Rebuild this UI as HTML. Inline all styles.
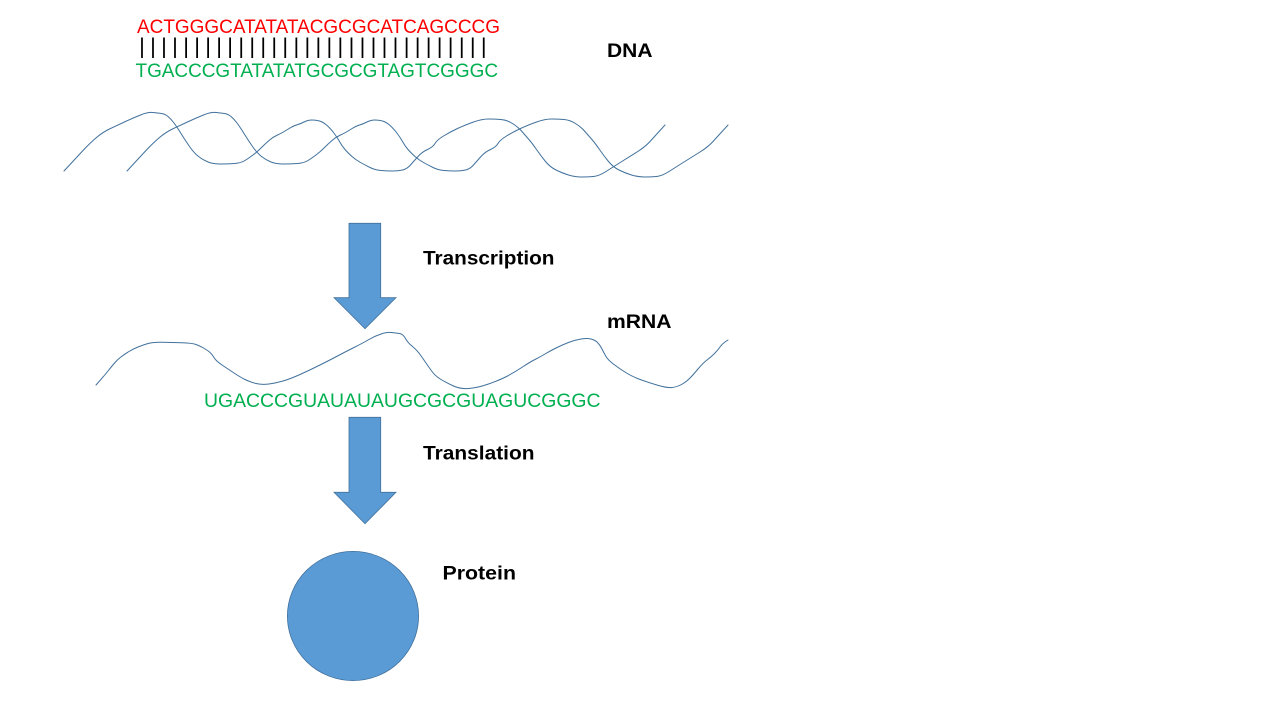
<!DOCTYPE html>
<html lang="en">
<head>
<meta charset="utf-8">
<title>DNA to Protein</title>
<style>
html,body{margin:0;padding:0;background:#fff;width:1280px;height:720px;overflow:hidden}
svg{display:block}
.seq{font-family:"Liberation Sans",sans-serif;font-size:19.5px}
.lab{font-family:"Liberation Sans",sans-serif;font-size:19.5px;font-weight:bold;fill:#000}
.wave{fill:none;stroke:#41719C;stroke-width:1;stroke-linejoin:round;stroke-linecap:round}
.shape{fill:#5B9BD5;stroke:#41719C;stroke-width:.8}
</style>
</head>
<body>
<svg width="1280" height="720" viewBox="0 0 1280 720" xmlns="http://www.w3.org/2000/svg">
<rect width="1280" height="720" fill="#fff"/>

<text class="seq" x="137" y="33" fill="#FF0000" textLength="363" lengthAdjust="spacingAndGlyphs">ACTGGGCATATATACGCGCATCAGCCCG</text>
<text x="139.1" y="53.4" fill="#000" style="font-family:'Liberation Sans',sans-serif;font-size:22px;letter-spacing:5.31px">||||||||||||||||||||||||||||||||</text>
<text class="seq" x="135.5" y="77" fill="#00B050" textLength="362.5" lengthAdjust="spacingAndGlyphs">TGACCCGTATATATGCGCGTAGTCGGGC</text>

<text class="lab" x="607" y="57" textLength="45.5" lengthAdjust="spacingAndGlyphs">DNA</text>

<path class="wave" d="M64 171 L70 164.5 Q76 158 83 150.5 Q90 143 96.5 137.5 Q103 132 110.5 128.5 Q118 125 125.5 121.5 Q133 118 140.5 115 Q148 112 153 112.5 Q158 113 161.5 113.5 Q165 114 168 116.5 Q171 119 174 123 Q177 127 181 133.5 Q185 140 189.5 146.5 Q194 153 198.5 156.5 Q203 160 208 162 Q213 164 220.5 164 Q228 164 234.5 163.5 Q241 163 245 160.5 Q249 158 253 155 Q257 152 261 148 Q265 144 269 140.5 Q273 137 277.5 135 Q282 133 287.5 129.5 Q293 126 296.5 125 Q300 124 304 122 Q308 120 312 120 Q316 120 319.5 121 Q323 122 326.5 125 Q330 128 333.5 132.5 Q337 137 339.5 141.5 Q342 146 345 149.5 Q348 153 352 156.5 Q356 160 360.5 162.5 Q365 165 370 167.5 Q375 170 381 170.5 Q387 171 392.5 171 Q398 171 402.5 170 Q407 169 410.5 165 Q414 161 418 156.5 Q422 152 427.5 149.5 Q433 147 435 143.5 Q437 140 443.5 136 Q450 132 457.5 128.5 Q465 125 473.5 122 Q482 119 488.5 119 Q495 119 501 119.5 Q507 120 512.5 123.5 Q518 127 521.5 131 Q525 135 528.5 139 Q532 143 536.5 149.5 Q541 156 545.5 161.5 Q550 167 556 170 Q562 173 568.5 175 Q575 177 581.5 177 Q588 177 593.5 176.5 Q599 176 606 171.5 Q613 167 621 162 Q629 157 637 152 Q645 147 650 141.5 Q655 136 660 130.5 L665 125"/>
<path class="wave" transform="translate(63 0)" d="M64 171 L70 164.5 Q76 158 83 150.5 Q90 143 96.5 137.5 Q103 132 110.5 128.5 Q118 125 125.5 121.5 Q133 118 140.5 115 Q148 112 153 112.5 Q158 113 161.5 113.5 Q165 114 168 116.5 Q171 119 174 123 Q177 127 181 133.5 Q185 140 189.5 146.5 Q194 153 198.5 156.5 Q203 160 208 162 Q213 164 220.5 164 Q228 164 234.5 163.5 Q241 163 245 160.5 Q249 158 253 155 Q257 152 261 148 Q265 144 269 140.5 Q273 137 277.5 135 Q282 133 287.5 129.5 Q293 126 296.5 125 Q300 124 304 122 Q308 120 312 120 Q316 120 319.5 121 Q323 122 326.5 125 Q330 128 333.5 132.5 Q337 137 339.5 141.5 Q342 146 345 149.5 Q348 153 352 156.5 Q356 160 360.5 162.5 Q365 165 370 167.5 Q375 170 381 170.5 Q387 171 392.5 171 Q398 171 402.5 170 Q407 169 410.5 165 Q414 161 418 156.5 Q422 152 427.5 149.5 Q433 147 435 143.5 Q437 140 443.5 136 Q450 132 457.5 128.5 Q465 125 473.5 122 Q482 119 488.5 119 Q495 119 501 119.5 Q507 120 512.5 123.5 Q518 127 521.5 131 Q525 135 528.5 139 Q532 143 536.5 149.5 Q541 156 545.5 161.5 Q550 167 556 170 Q562 173 568.5 175 Q575 177 581.5 177 Q588 177 593.5 176.5 Q599 176 606 171.5 Q613 167 621 162 Q629 157 637 152 Q645 147 650 141.5 Q655 136 660 130.5 L665 125"/>

<polygon class="shape" points="349,223.3 380.7,223.3 380.7,297.7 396,297.7 365,328.7 334,297.7 349,297.7"/>
<text class="lab" x="423" y="264.5" textLength="131.5" lengthAdjust="spacingAndGlyphs">Transcription</text>

<text class="lab" x="607" y="328" textLength="64.5" lengthAdjust="spacingAndGlyphs">mRNA</text>

<path class="wave" d="M96 385 L100 380.5 Q104 376 108 371 Q112 366 115 362.5 Q118 359 121.5 356.5 Q125 354 129 351.5 Q133 349 138 347 Q143 345 148 343.5 Q153 342 162.5 342.25 Q172 342.5 182 342.75 Q192 343 196 344.5 Q200 346 203.5 348 Q207 350 209.5 352 Q212 354 214 357.5 Q216 361 222 365 Q228 369 234 373 Q240 377 245 379.5 Q250 382 256 383.5 Q262 385 269 384 Q276 383 283 381 Q290 379 300 374.5 Q310 370 320 365 Q330 360 337.5 356 Q345 352 354 347.5 Q363 343 369 339.5 Q375 336 381 334 Q387 332 391.5 332.5 Q396 333 399.5 333.5 Q403 334 405.5 338.5 Q408 343 412.5 346.5 Q417 350 421.5 356.5 Q426 363 430.5 369.5 Q435 376 441 379.5 Q447 383 453.5 386 Q460 389 468.5 388.5 Q477 388 488.5 384 Q500 380 507.5 376 Q515 372 522.5 367 Q530 362 535 359.5 Q540 357 545 354 Q550 351 556 348 Q562 345 568.5 342.5 Q575 340 581 339 Q587 338 591 339 Q595 340 597.5 342.5 Q600 345 602 349 Q604 353 606 356.5 Q608 360 614 364.5 Q620 369 626.5 373 Q633 377 641.5 380 Q650 383 658.5 385.5 Q667 388 672 387.5 Q677 387 681.5 384.5 Q686 382 689.5 378.5 Q693 375 698 369 Q703 363 707 360 Q711 357 714.5 353.5 Q718 350 720 347 Q722 344 725 342 L728 340"/>

<text class="seq" x="204" y="407" fill="#00B050" textLength="396.5" lengthAdjust="spacingAndGlyphs">UGACCCGUAUAUAUGCGCGUAGUCGGGC</text>

<polygon class="shape" points="349,417.3 380.7,417.3 380.7,492.3 396,492.3 365,523.7 334,492.3 349,492.3"/>
<text class="lab" x="423" y="459.5" textLength="111.5" lengthAdjust="spacingAndGlyphs">Translation</text>

<ellipse class="shape" cx="353" cy="616" rx="65.6" ry="64.6"/>
<text class="lab" x="442.5" y="579.5" textLength="73.5" lengthAdjust="spacingAndGlyphs">Protein</text>
</svg>
</body>
</html>
